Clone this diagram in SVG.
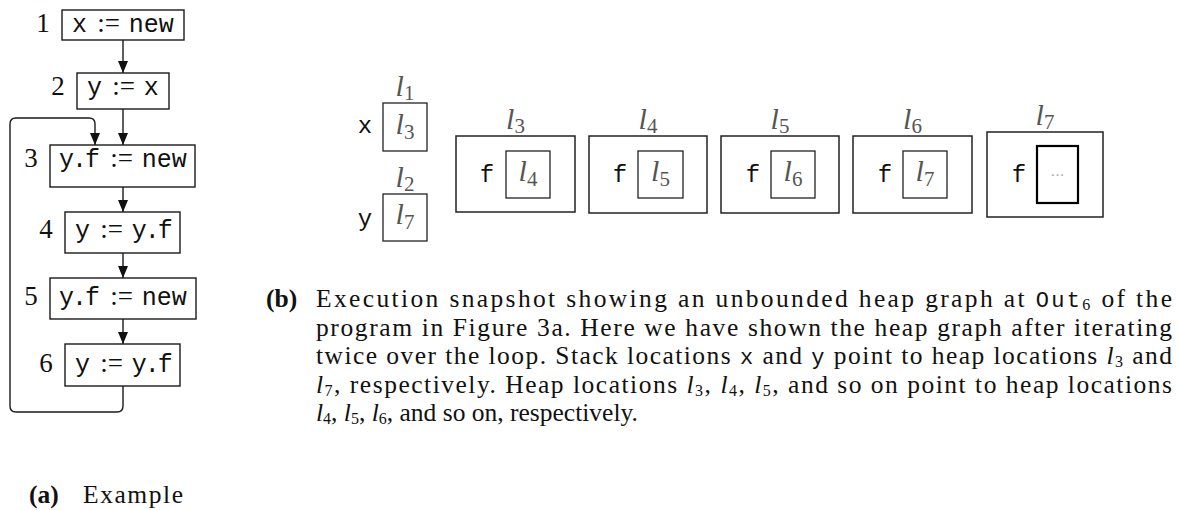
<svg xmlns="http://www.w3.org/2000/svg" width="1179" height="510" viewBox="0 0 1179 510">
<defs>
<marker id="ah" markerUnits="userSpaceOnUse" markerWidth="12" markerHeight="10" refX="12" refY="5" orient="auto"><path d="M0,0 L12,5 L0,10 z" fill="#111"/></marker>
<style>
.box{fill:#fff;stroke:#1a1a1a;stroke-width:1.4}
.hbox{fill:#fff;stroke:#222;stroke-width:1.5}
.ibox{fill:#fff;stroke:#222;stroke-width:1.3}
.edge{fill:none;stroke:#1a1a1a;stroke-width:1.4}
.num{font-family:"Liberation Serif",serif;font-size:27px;text-anchor:middle;fill:#111}
.code{font-family:"Liberation Mono",monospace;font-size:25px;text-anchor:middle;fill:#111}
.s{font-family:"Liberation Serif",serif;font-size:27px}
.yf{letter-spacing:-2px}
.loc{font-family:"Liberation Serif",serif;font-size:30px;fill:#555;text-anchor:middle}
.i{font-style:italic}
.sub{font-size:21px}
.var{font-family:"Liberation Mono",monospace;font-size:24px;fill:#111;text-anchor:middle}
.cap{font-family:"Liberation Serif",serif;font-size:25.5px;fill:#111}
.cm{font-family:"Liberation Mono",monospace;font-size:22px}
.cs{font-size:16px}
.b{font-weight:bold}
</style>
</defs>

<g id="connectors">
<path class="edge" d="M123,40 V73" marker-end="url(#ah)"/>
<path class="edge" d="M123,109 V145" marker-end="url(#ah)"/>
<path class="edge" d="M123,187 V212" marker-end="url(#ah)"/>
<path class="edge" d="M123,253 V278" marker-end="url(#ah)"/>
<path class="edge" d="M123,319 V344" marker-end="url(#ah)"/>
<path class="edge" d="M123,386 V406 Q123,412 117,412 H16 Q10,412 10,406 V124 Q10,118 16,118 H89 Q95,118 95,124 V145" marker-end="url(#ah)"/>
</g>

<g id="n1">
<rect class="box" x="62" y="10" width="122" height="30"/>
<text class="num" x="43" y="32">1</text>
<text class="code" x="123" y="32">x<tspan class="s" dx="10">:=</tspan><tspan dx="9">new</tspan></text>
</g>
<g id="n2">
<rect class="box" x="77" y="73" width="92" height="36"/>
<text class="num" x="58" y="95">2</text>
<text class="code" x="123" y="95">y<tspan class="s" dx="10">:=</tspan><tspan dx="9">x</tspan></text>
</g>
<g id="n3">
<rect class="box" x="50" y="145" width="145" height="42"/>
<text class="num" x="31" y="167">3</text>
<text class="code" x="123" y="167"><tspan class="yf">y.f</tspan><tspan class="s" dx="12">:=</tspan><tspan dx="9">new</tspan></text>
</g>
<g id="n4">
<rect class="box" x="65" y="212" width="115" height="41"/>
<text class="num" x="46" y="238">4</text>
<text class="code" x="123" y="238">y<tspan class="s" dx="10">:=</tspan><tspan class="yf" dx="9">y.f</tspan></text>
</g>
<g id="n5">
<rect class="box" x="50" y="278" width="146" height="41"/>
<text class="num" x="31" y="305">5</text>
<text class="code" x="123" y="305"><tspan class="yf">y.f</tspan><tspan class="s" dx="12">:=</tspan><tspan dx="9">new</tspan></text>
</g>
<g id="n6">
<rect class="box" x="65" y="344" width="115" height="42"/>
<text class="num" x="46" y="372">6</text>
<text class="code" x="123" y="372">y<tspan class="s" dx="10">:=</tspan><tspan class="yf" dx="9">y.f</tspan></text>
</g>

<g id="stack-x">
<text class="loc" x="405" y="96"><tspan class="i">l</tspan><tspan class="sub" dy="4">1</tspan></text>
<text class="var" x="365" y="133">x</text>
<rect class="ibox" x="383" y="103" width="44" height="48"/>
<text class="loc" x="405" y="134"><tspan class="i">l</tspan><tspan class="sub" dy="5">3</tspan></text>
</g>
<g id="stack-y">
<text class="loc" x="405" y="187"><tspan class="i">l</tspan><tspan class="sub" dy="4">2</tspan></text>
<text class="var" x="365" y="226">y</text>
<rect class="ibox" x="383" y="194" width="44" height="47"/>
<text class="loc" x="405" y="224"><tspan class="i">l</tspan><tspan class="sub" dy="5">7</tspan></text>
</g>

<g id="heap-l3">
<text class="loc" x="515.5" y="129"><tspan class="i">l</tspan><tspan class="sub" dy="4">3</tspan></text>
<rect class="hbox" x="456" y="136" width="119" height="76"/>
<text class="var" x="487" y="182">f</text>
<rect class="ibox" x="506" y="151" width="44" height="47"/>
<text class="loc" x="528" y="181"><tspan class="i">l</tspan><tspan class="sub" dy="5">4</tspan></text>
</g>
<g id="heap-l4">
<text class="loc" x="648" y="129"><tspan class="i">l</tspan><tspan class="sub" dy="4">4</tspan></text>
<rect class="hbox" x="589" y="136" width="118" height="77"/>
<text class="var" x="620" y="182">f</text>
<rect class="ibox" x="638" y="151" width="45" height="47"/>
<text class="loc" x="660.5" y="181"><tspan class="i">l</tspan><tspan class="sub" dy="5">5</tspan></text>
</g>
<g id="heap-l5">
<text class="loc" x="780" y="129"><tspan class="i">l</tspan><tspan class="sub" dy="4">5</tspan></text>
<rect class="hbox" x="721" y="136" width="118" height="77"/>
<text class="var" x="753" y="182">f</text>
<rect class="ibox" x="771" y="151" width="44" height="47"/>
<text class="loc" x="793" y="181"><tspan class="i">l</tspan><tspan class="sub" dy="5">6</tspan></text>
</g>
<g id="heap-l6">
<text class="loc" x="912.5" y="129"><tspan class="i">l</tspan><tspan class="sub" dy="4">6</tspan></text>
<rect class="hbox" x="853" y="136" width="119" height="77"/>
<text class="var" x="885" y="182">f</text>
<rect class="ibox" x="903" y="151" width="44" height="47"/>
<text class="loc" x="925" y="181"><tspan class="i">l</tspan><tspan class="sub" dy="5">7</tspan></text>
</g>
<g id="heap-l7">
<text class="loc" x="1045" y="125"><tspan class="i">l</tspan><tspan class="sub" dy="4">7</tspan></text>
<rect class="hbox" x="987" y="132" width="116" height="85"/>
<text class="var" x="1019" y="182">f</text>
<rect x="1037" y="146" width="41" height="57" fill="#fff" stroke="#000" stroke-width="2.2"/>
<text x="1057.5" y="180" font-family="Liberation Serif, serif" font-size="14" fill="#999" text-anchor="middle">···</text>
</g>

<g id="caption-b">
<text class="cap b" x="266" y="307">(b)</text>
<text class="cap" x="316" y="307" textLength="856" lengthAdjust="spacing">Execution snapshot showing an unbounded heap graph at <tspan class="cm">Out</tspan><tspan class="cs" dy="3">6</tspan><tspan dy="-3"> of the</tspan></text>
<text class="cap" x="316" y="336" textLength="856" lengthAdjust="spacing">program in Figure 3a. Here we have shown the heap graph after iterating</text>
<text class="cap" x="316" y="364" textLength="856" lengthAdjust="spacing">twice over the loop. Stack locations <tspan class="cm">x</tspan> and <tspan class="cm">y</tspan> point to heap locations <tspan class="i">l</tspan><tspan class="cs" dy="3">3</tspan><tspan dy="-3"> and</tspan></text>
<text class="cap" x="316" y="393" textLength="856" lengthAdjust="spacing"><tspan class="i">l</tspan><tspan class="cs" dy="3">7</tspan><tspan dy="-3">, respectively. Heap locations </tspan><tspan class="i">l</tspan><tspan class="cs" dy="3">3</tspan><tspan dy="-3">, </tspan><tspan class="i">l</tspan><tspan class="cs" dy="3">4</tspan><tspan dy="-3">, </tspan><tspan class="i">l</tspan><tspan class="cs" dy="3">5</tspan><tspan dy="-3">, and so on point to heap locations</tspan></text>
<text class="cap" x="316" y="421"><tspan class="i">l</tspan><tspan class="cs" dy="3">4</tspan><tspan dy="-3">, </tspan><tspan class="i">l</tspan><tspan class="cs" dy="3">5</tspan><tspan dy="-3">, </tspan><tspan class="i">l</tspan><tspan class="cs" dy="3">6</tspan><tspan dy="-3">, and so on, respectively.</tspan></text>
</g>

<g id="caption-a">
<text class="cap b" x="29" y="503">(a)</text>
<text class="cap" x="83" y="503" textLength="100" lengthAdjust="spacing">Example</text>
</g>
</svg>
